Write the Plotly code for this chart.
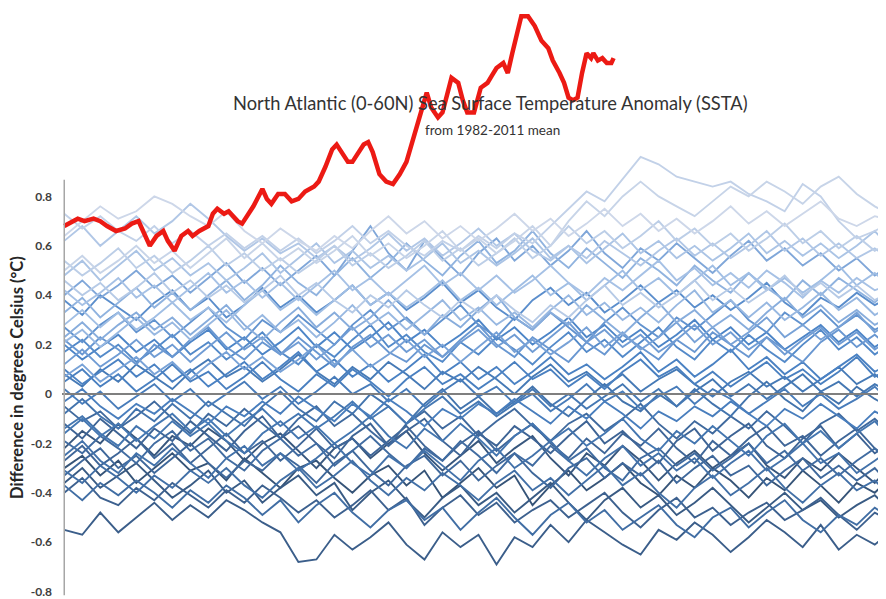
import plotly.graph_objects as go

# ---------------- data ----------------
days = list(range(0, 369, 8))  # sampling days for yearly series (47 points)

sst_1982 = [-0.30,-0.25,-0.33,-0.27,-0.36,-0.30,-0.24,-0.31,-0.28,-0.35,
            -0.26,-0.32,-0.38,-0.30,-0.27,-0.34,-0.40,-0.33,-0.29,-0.37,
            -0.31,-0.42,-0.36,-0.30,-0.38,-0.33,-0.45,-0.37,-0.31,-0.39,
            -0.34,-0.28,-0.36,-0.41,-0.33,-0.38,-0.30,-0.35,-0.42,-0.34,
            -0.39,-0.31,-0.37,-0.44,-0.36,-0.40,-0.33]
sst_1983 = [-0.22,-0.15,-0.20,-0.12,-0.18,-0.25,-0.17,-0.21,-0.14,-0.19,
            -0.27,-0.20,-0.16,-0.23,-0.30,-0.22,-0.18,-0.26,-0.20,-0.15,
            -0.24,-0.31,-0.25,-0.19,-0.28,-0.22,-0.17,-0.26,-0.33,-0.24,
            -0.29,-0.21,-0.27,-0.35,-0.28,-0.23,-0.30,-0.25,-0.20,-0.29,
            -0.34,-0.26,-0.31,-0.24,-0.30,-0.36,-0.28]
sst_1984 = [-0.36,-0.30,-0.38,-0.33,-0.28,-0.35,-0.42,-0.37,-0.31,-0.40,
            -0.35,-0.44,-0.38,-0.33,-0.41,-0.36,-0.47,-0.40,-0.35,-0.43,
            -0.50,-0.42,-0.37,-0.45,-0.40,-0.48,-0.42,-0.36,-0.44,-0.51,
            -0.43,-0.38,-0.46,-0.41,-0.49,-0.44,-0.38,-0.45,-0.52,-0.46,
            -0.40,-0.47,-0.43,-0.50,-0.45,-0.41,-0.48]
sst_1985 = [-0.55,-0.57,-0.48,-0.56,-0.50,-0.44,-0.51,-0.45,-0.50,-0.43,
            -0.47,-0.52,-0.56,-0.68,-0.67,-0.57,-0.63,-0.58,-0.52,-0.61,
            -0.67,-0.56,-0.62,-0.57,-0.69,-0.58,-0.62,-0.53,-0.60,-0.51,
            -0.56,-0.61,-0.65,-0.55,-0.59,-0.52,-0.57,-0.64,-0.58,-0.51,
            -0.56,-0.62,-0.53,-0.63,-0.57,-0.61,-0.55]
sst_1986 = [-0.40,-0.34,-0.42,-0.45,-0.38,-0.43,-0.36,-0.41,-0.46,-0.39,
            -0.44,-0.37,-0.42,-0.48,-0.43,-0.50,-0.45,-0.39,-0.47,-0.42,
            -0.53,-0.46,-0.41,-0.49,-0.44,-0.52,-0.47,-0.43,-0.50,-0.45,
            -0.40,-0.48,-0.54,-0.47,-0.42,-0.50,-0.46,-0.53,-0.48,-0.44,
            -0.51,-0.47,-0.42,-0.49,-0.55,-0.48,-0.52]
sst_1987 = [-0.12,-0.18,-0.10,-0.16,-0.22,-0.14,-0.19,-0.11,-0.17,-0.23,
            -0.15,-0.09,-0.18,-0.13,-0.20,-0.26,-0.17,-0.12,-0.21,-0.15,
            -0.10,-0.19,-0.25,-0.16,-0.21,-0.13,-0.18,-0.24,-0.17,-0.11,
            -0.20,-0.15,-0.22,-0.28,-0.19,-0.14,-0.23,-0.17,-0.12,-0.21,
            -0.26,-0.18,-0.13,-0.22,-0.16,-0.24,-0.19]
sst_1988 = [-0.27,-0.21,-0.29,-0.24,-0.18,-0.26,-0.20,-0.28,-0.22,-0.16,
            -0.24,-0.19,-0.27,-0.21,-0.14,-0.22,-0.18,-0.25,-0.19,-0.13,
            -0.21,-0.27,-0.20,-0.15,-0.23,-0.17,-0.12,-0.20,-0.26,-0.18,
            -0.24,-0.16,-0.21,-0.14,-0.22,-0.28,-0.19,-0.25,-0.18,-0.13,
            -0.21,-0.17,-0.25,-0.19,-0.14,-0.22,-0.27]
sst_1989 = [-0.33,-0.27,-0.22,-0.30,-0.25,-0.32,-0.26,-0.20,-0.28,-0.34,
            -0.27,-0.31,-0.24,-0.29,-0.36,-0.28,-0.23,-0.31,-0.37,-0.29,
            -0.25,-0.33,-0.27,-0.35,-0.29,-0.24,-0.32,-0.38,-0.30,-0.26,
            -0.34,-0.28,-0.33,-0.27,-0.36,-0.30,-0.25,-0.33,-0.29,-0.37,
            -0.31,-0.26,-0.34,-0.29,-0.35,-0.30,-0.38]
sst_1990 = [-0.05,-0.11,-0.07,-0.14,-0.09,-0.03,-0.10,-0.16,-0.08,-0.13,
            -0.06,-0.12,-0.18,-0.10,-0.05,-0.13,-0.08,-0.15,-0.21,-0.12,
            -0.07,-0.14,-0.09,-0.17,-0.11,-0.06,-0.13,-0.19,-0.12,-0.08,
            -0.15,-0.10,-0.04,-0.12,-0.18,-0.11,-0.16,-0.09,-0.14,-0.07,
            -0.13,-0.20,-0.12,-0.08,-0.15,-0.10,-0.17]
sst_1991 = [-0.19,-0.24,-0.17,-0.22,-0.28,-0.20,-0.15,-0.23,-0.18,-0.26,
            -0.31,-0.23,-0.18,-0.25,-0.20,-0.29,-0.23,-0.17,-0.24,-0.30,
            -0.22,-0.27,-0.19,-0.25,-0.32,-0.24,-0.29,-0.21,-0.27,-0.22,
            -0.30,-0.35,-0.26,-0.22,-0.29,-0.24,-0.31,-0.26,-0.20,-0.28,
            -0.23,-0.31,-0.26,-0.33,-0.27,-0.22,-0.29]
sst_1992 = [-0.37,-0.43,-0.36,-0.41,-0.35,-0.40,-0.46,-0.39,-0.44,-0.37,
            -0.42,-0.49,-0.43,-0.52,-0.45,-0.40,-0.48,-0.54,-0.47,-0.43,
            -0.51,-0.46,-0.55,-0.48,-0.42,-0.50,-0.57,-0.49,-0.44,-0.52,
            -0.47,-0.55,-0.50,-0.45,-0.53,-0.58,-0.50,-0.46,-0.54,-0.48,
            -0.43,-0.51,-0.56,-0.49,-0.53,-0.46,-0.51]
sst_1993 = [-0.31,-0.36,-0.29,-0.34,-0.40,-0.33,-0.38,-0.31,-0.36,-0.30,
            -0.37,-0.42,-0.35,-0.30,-0.38,-0.33,-0.27,-0.35,-0.41,-0.34,
            -0.39,-0.32,-0.37,-0.43,-0.36,-0.31,-0.39,-0.34,-0.41,-0.35,
            -0.29,-0.37,-0.32,-0.40,-0.46,-0.38,-0.33,-0.41,-0.36,-0.30,
            -0.38,-0.44,-0.37,-0.32,-0.39,-0.35,-0.42]
sst_1994 = [-0.25,-0.19,-0.27,-0.32,-0.24,-0.29,-0.22,-0.28,-0.34,-0.26,
            -0.21,-0.29,-0.24,-0.31,-0.26,-0.20,-0.28,-0.33,-0.25,-0.30,
            -0.23,-0.29,-0.35,-0.27,-0.22,-0.30,-0.25,-0.19,-0.27,-0.33,
            -0.26,-0.21,-0.29,-0.24,-0.31,-0.26,-0.34,-0.28,-0.23,-0.31,
            -0.26,-0.20,-0.28,-0.24,-0.32,-0.27,-0.22]
sst_1995 = [-0.08,-0.02,-0.09,-0.14,-0.06,-0.11,-0.04,-0.10,-0.03,-0.08,
            -0.13,-0.05,0.01,-0.06,-0.11,-0.03,-0.08,0.00,-0.05,-0.12,
            -0.04,0.02,-0.06,-0.01,-0.08,-0.03,0.03,-0.04,-0.09,-0.02,
            0.04,-0.03,-0.07,0.00,-0.05,0.02,-0.04,-0.09,-0.01,0.05,
            -0.02,-0.07,0.01,-0.04,0.03,-0.02,-0.06]
sst_1996 = [-0.14,-0.09,-0.16,-0.21,-0.13,-0.18,-0.11,-0.17,-0.12,-0.19,
            -0.24,-0.16,-0.11,-0.18,-0.13,-0.20,-0.15,-0.09,-0.17,-0.22,
            -0.14,-0.19,-0.12,-0.18,-0.25,-0.17,-0.12,-0.19,-0.14,-0.21,
            -0.16,-0.10,-0.18,-0.23,-0.15,-0.20,-0.13,-0.19,-0.25,-0.17,
            -0.12,-0.20,-0.15,-0.22,-0.16,-0.11,-0.19]
sst_1997 = [-0.16,-0.10,-0.17,-0.12,-0.19,-0.13,-0.08,-0.15,-0.10,-0.17,
            -0.11,-0.06,-0.13,-0.08,-0.14,-0.09,-0.03,-0.10,-0.05,-0.12,
            -0.06,-0.01,-0.08,-0.03,-0.09,-0.04,0.02,-0.05,0.00,-0.06,
            -0.01,0.04,-0.03,0.02,-0.05,0.01,0.06,-0.01,0.04,-0.02,
            0.03,0.08,0.01,0.05,-0.01,0.04,0.00]
sst_1998 = [0.08,0.03,0.10,0.05,0.12,0.07,0.02,0.09,0.14,0.07,
            0.11,0.05,0.10,0.16,0.09,0.04,0.11,0.06,0.13,0.08,
            0.02,0.09,0.05,0.11,0.06,0.00,0.07,0.12,0.05,0.09,
            0.03,0.08,0.01,0.06,0.10,0.04,-0.01,0.05,0.09,0.03,
            0.07,0.01,0.06,0.11,0.04,0.08,0.02]
sst_1999 = [0.02,-0.04,0.01,-0.06,-0.01,0.04,-0.03,0.02,-0.05,0.00,
            0.05,-0.02,0.03,-0.04,0.01,0.07,0.00,0.04,-0.03,0.02,
            -0.05,0.01,0.06,-0.01,0.03,-0.04,0.00,-0.07,-0.02,0.04,
            -0.03,0.01,-0.06,-0.01,0.03,-0.04,0.02,-0.02,-0.08,-0.03,
            0.02,-0.05,0.00,-0.06,-0.02,0.03,-0.04]
sst_2000 = [-0.03,0.02,-0.05,-0.10,-0.04,-0.08,-0.02,-0.07,-0.12,-0.05,
            -0.09,-0.03,-0.08,-0.01,-0.06,-0.11,-0.04,-0.09,-0.02,-0.07,
            -0.13,-0.06,-0.10,-0.04,-0.08,-0.02,-0.07,-0.12,-0.05,-0.10,
            -0.03,-0.08,-0.14,-0.07,-0.11,-0.05,-0.09,-0.03,-0.08,-0.13,
            -0.06,-0.10,-0.04,-0.09,-0.14,-0.07,-0.11]
sst_2001 = [0.05,0.10,0.03,0.08,0.01,0.06,0.12,0.05,0.09,0.02,
            0.07,0.13,0.06,0.01,0.08,0.03,0.10,0.05,-0.01,0.06,
            0.11,0.04,0.08,0.02,0.07,0.13,0.06,0.10,0.03,0.08,
            0.02,0.09,0.14,0.07,0.11,0.04,0.09,0.03,0.08,0.13,
            0.06,0.10,0.04,0.09,0.15,0.07,0.11]
sst_2002 = [0.10,0.04,0.09,0.14,0.07,0.12,0.05,0.10,0.03,0.08,
            0.13,0.06,0.11,0.17,0.09,0.14,0.07,0.12,0.05,0.10,
            0.16,0.08,0.13,0.06,0.11,0.04,0.09,0.15,0.08,0.12,
            0.06,0.11,0.17,0.09,0.14,0.07,0.12,0.18,0.10,0.15,
            0.08,0.13,0.06,0.11,0.16,0.09,0.13]
sst_2003 = [0.20,0.14,0.19,0.24,0.17,0.22,0.15,0.21,0.26,0.18,
            0.23,0.16,0.21,0.27,0.19,0.25,0.18,0.23,0.29,0.21,
            0.26,0.19,0.24,0.30,0.22,0.27,0.20,0.25,0.31,0.23,
            0.28,0.21,0.26,0.19,0.24,0.30,0.22,0.27,0.20,0.25,
            0.18,0.23,0.28,0.21,0.26,0.19,0.24]
sst_2004 = [0.17,0.22,0.15,0.20,0.13,0.18,0.24,0.16,0.21,0.14,
            0.19,0.25,0.17,0.12,0.20,0.15,0.22,0.28,0.19,0.24,
            0.17,0.13,0.21,0.16,0.23,0.18,0.12,0.19,0.25,0.17,
            0.22,0.15,0.21,0.27,0.19,0.14,0.22,0.17,0.24,0.18,
            0.13,0.20,0.26,0.18,0.23,0.16,0.21]
sst_2005 = [0.38,0.32,0.40,0.35,0.30,0.37,0.42,0.34,0.39,0.31,
            0.36,0.43,0.35,0.40,0.33,0.38,0.44,0.36,0.41,0.34,
            0.39,0.45,0.37,0.42,0.35,0.30,0.38,0.43,0.36,0.41,
            0.33,0.38,0.44,0.37,0.42,0.35,0.40,0.34,0.39,0.45,
            0.37,0.32,0.39,0.35,0.41,0.36,0.40]
sst_2006 = [0.27,0.21,0.28,0.33,0.25,0.30,0.23,0.29,0.35,0.27,
            0.22,0.30,0.25,0.32,0.26,0.20,0.28,0.34,0.26,0.31,
            0.24,0.30,0.36,0.28,0.23,0.31,0.26,0.33,0.27,0.21,
            0.29,0.35,0.28,0.23,0.31,0.26,0.32,0.38,0.30,0.25,
            0.33,0.28,0.34,0.27,0.32,0.26,0.30]
sst_2007 = [0.22,0.16,0.23,0.18,0.12,0.20,0.15,0.22,0.27,0.19,
            0.14,0.21,0.16,0.23,0.17,0.11,0.19,0.24,0.17,0.13,
            0.20,0.15,0.22,0.28,0.20,0.15,0.23,0.18,0.13,0.21,
            0.16,0.24,0.19,0.14,0.22,0.17,0.25,0.20,0.15,0.23,
            0.18,0.13,0.21,0.26,0.19,0.24,0.18]
sst_2008 = [0.12,0.18,0.11,0.16,0.22,0.15,0.20,0.13,0.19,0.25,
            0.18,0.23,0.16,0.21,0.14,0.20,0.27,0.19,0.24,0.17,
            0.22,0.15,0.21,0.26,0.19,0.24,0.17,0.23,0.29,0.21,
            0.26,0.19,0.24,0.17,0.22,0.28,0.20,0.25,0.18,0.23,
            0.16,0.22,0.27,0.20,0.25,0.18,0.23]
sst_2009 = [0.07,0.12,0.05,0.10,0.15,0.08,0.13,0.06,0.12,0.17,
            0.10,0.15,0.09,0.14,0.20,0.12,0.18,0.11,0.16,0.22,
            0.15,0.20,0.13,0.19,0.25,0.17,0.22,0.16,0.21,0.27,
            0.19,0.25,0.18,0.23,0.29,0.21,0.27,0.20,0.25,0.31,
            0.23,0.28,0.22,0.27,0.33,0.25,0.30]
sst_2010 = [0.40,0.46,0.39,0.44,0.50,0.43,0.48,0.41,0.47,0.53,
            0.45,0.51,0.44,0.50,0.56,0.48,0.58,0.68,0.57,0.50,
            0.62,0.55,0.48,0.57,0.63,0.54,0.60,0.52,0.58,0.66,
            0.57,0.51,0.59,0.54,0.61,0.55,0.49,0.56,0.62,0.54,
            0.59,0.52,0.57,0.50,0.55,0.48,0.53]
sst_2011 = [0.23,0.29,0.22,0.28,0.33,0.26,0.31,0.24,0.30,0.36,
            0.28,0.22,0.29,0.35,0.27,0.33,0.26,0.31,0.38,0.30,
            0.24,0.32,0.27,0.34,0.40,0.31,0.26,0.33,0.28,0.36,
            0.30,0.24,0.31,0.37,0.29,0.34,0.27,0.32,0.26,0.33,
            0.39,0.31,0.36,0.29,0.34,0.28,0.32]
sst_2012 = [0.33,0.39,0.31,0.37,0.43,0.35,0.41,0.34,0.40,0.46,
            0.38,0.44,0.52,0.45,0.40,0.48,0.55,0.47,0.53,0.61,
            0.54,0.48,0.56,0.62,0.53,0.58,0.66,0.57,0.51,0.59,
            0.53,0.47,0.55,0.50,0.44,0.52,0.46,0.41,0.49,0.43,
            0.38,0.46,0.40,0.47,0.42,0.37,0.44]
sst_2013 = [0.21,0.26,0.19,0.25,0.31,0.24,0.29,0.22,0.28,0.34,
            0.26,0.32,0.25,0.30,0.23,0.29,0.36,0.28,0.33,0.26,
            0.32,0.38,0.30,0.35,0.28,0.33,0.27,0.34,0.40,0.32,
            0.37,0.30,0.35,0.29,0.36,0.42,0.33,0.38,0.31,0.37,
            0.30,0.35,0.41,0.34,0.39,0.32,0.36]
sst_2014 = [0.28,0.34,0.27,0.33,0.26,0.31,0.37,0.30,0.35,0.29,
            0.36,0.42,0.34,0.39,0.32,0.38,0.44,0.36,0.41,0.35,
            0.40,0.46,0.38,0.43,0.36,0.42,0.48,0.40,0.45,0.38,
            0.44,0.50,0.42,0.47,0.40,0.46,0.52,0.44,0.49,0.42,
            0.47,0.41,0.46,0.52,0.44,0.49,0.43]
sst_2015 = [0.42,0.36,0.41,0.47,0.39,0.44,0.37,0.43,0.49,0.41,
            0.46,0.39,0.45,0.38,0.44,0.50,0.42,0.47,0.40,0.46,
            0.52,0.44,0.49,0.42,0.48,0.41,0.46,0.52,0.45,0.40,
            0.47,0.42,0.48,0.54,0.46,0.51,0.44,0.49,0.43,0.50,
            0.45,0.39,0.46,0.41,0.47,0.42,0.45]
sst_2016 = [0.48,0.54,0.46,0.52,0.58,0.50,0.55,0.48,0.53,0.46,
            0.51,0.57,0.49,0.55,0.61,0.53,0.58,0.51,0.56,0.50,
            0.55,0.61,0.53,0.58,0.52,0.57,0.63,0.55,0.60,0.53,
            0.59,0.65,0.57,0.62,0.55,0.60,0.54,0.59,0.65,0.57,
            0.62,0.56,0.61,0.55,0.60,0.66,0.58]
sst_2017 = [0.62,0.68,0.60,0.66,0.72,0.65,0.70,0.77,0.71,0.64,
            0.58,0.63,0.57,0.61,0.55,0.60,0.54,0.59,0.65,0.58,
            0.63,0.56,0.61,0.67,0.60,0.65,0.58,0.54,0.60,0.55,
            0.62,0.57,0.52,0.58,0.63,0.56,0.61,0.55,0.60,0.66,
            0.58,0.63,0.56,0.61,0.55,0.59,0.54]
sst_2018 = [0.46,0.40,0.45,0.38,0.43,0.49,0.41,0.46,0.39,0.44,
            0.37,0.42,0.48,0.40,0.45,0.38,0.33,0.40,0.35,0.42,
            0.36,0.31,0.38,0.33,0.40,0.34,0.29,0.36,0.31,0.38,
            0.44,0.36,0.41,0.35,0.40,0.46,0.38,0.43,0.37,0.42,
            0.48,0.40,0.45,0.39,0.44,0.38,0.42]
sst_2019 = [0.54,0.48,0.53,0.59,0.51,0.56,0.49,0.54,0.60,0.52,
            0.57,0.50,0.55,0.49,0.54,0.60,0.52,0.57,0.51,0.56,
            0.62,0.54,0.59,0.52,0.57,0.63,0.55,0.60,0.68,0.61,
            0.66,0.59,0.64,0.70,0.62,0.67,0.60,0.65,0.58,0.63,
            0.69,0.61,0.66,0.59,0.64,0.58,0.62]
sst_2020 = [0.73,0.67,0.72,0.66,0.62,0.68,0.61,0.66,0.60,0.65,
            0.59,0.64,0.58,0.63,0.57,0.62,0.68,0.61,0.66,0.60,
            0.56,0.62,0.58,0.64,0.59,0.65,0.61,0.68,0.75,0.82,
            0.78,0.87,0.96,0.93,0.88,0.86,0.84,0.86,0.81,0.78,
            0.74,0.85,0.80,0.70,0.63,0.66,0.70]
sst_2021 = [0.50,0.56,0.49,0.54,0.60,0.53,0.58,0.51,0.57,0.63,
            0.55,0.61,0.54,0.59,0.53,0.58,0.64,0.56,0.61,0.55,
            0.60,0.66,0.58,0.63,0.57,0.62,0.68,0.60,0.70,0.78,
            0.72,0.80,0.86,0.80,0.76,0.72,0.78,0.84,0.80,0.86,
            0.82,0.77,0.84,0.88,0.81,0.76,0.72]
sst_2022 = [0.64,0.70,0.76,0.71,0.74,0.80,0.77,0.72,0.68,0.74,
            0.66,0.61,0.67,0.62,0.58,0.64,0.59,0.66,0.72,0.65,
            0.70,0.63,0.68,0.62,0.67,0.73,0.66,0.71,0.64,0.69,
            0.75,0.68,0.73,0.66,0.71,0.65,0.70,0.76,0.69,0.74,
            0.68,0.73,0.78,0.71,0.68,0.72,0.70]

days_2023 = [0, 4, 6, 9, 13, 16, 19, 23, 27, 30, 33, 35, 38, 41, 44, 46, 49, 52, 55, 57,
             60, 64, 66, 68, 71, 73, 77, 79, 81, 84, 88, 90, 92, 95, 98, 101, 104, 107, 111, 113,
             116, 119, 121, 123, 126, 128, 131, 133, 135, 137, 140, 143, 146, 149, 152, 155, 159, 161, 163, 166,
             168, 171, 172, 175, 177, 179, 182, 185, 188, 190, 192, 195, 197, 199, 201, 203, 206, 209, 212, 215,
             217, 219, 220, 222, 224, 226, 228, 230, 232, 234, 235, 237, 239, 241, 243, 244]
sst_2023 = [0.68, 0.70, 0.71, 0.70, 0.71, 0.70, 0.68, 0.66, 0.67, 0.69, 0.70, 0.66, 0.60, 0.64, 0.66, 0.62, 0.58, 0.64, 0.66, 0.64,
            0.66, 0.68, 0.73, 0.75, 0.73, 0.74, 0.70, 0.69, 0.72, 0.76, 0.83, 0.79, 0.77, 0.81, 0.81, 0.78, 0.79, 0.82, 0.84, 0.86,
            0.92, 0.99, 1.01, 0.98, 0.94, 0.94, 0.98, 1.01, 1.02, 0.98, 0.89, 0.86, 0.85, 0.89, 0.94, 1.03, 1.15, 1.22, 1.16, 1.12,
            1.14, 1.25, 1.28, 1.26, 1.19, 1.14, 1.14, 1.24, 1.26, 1.29, 1.32, 1.34, 1.30, 1.38, 1.46, 1.53, 1.53, 1.49, 1.43, 1.40,
            1.35, 1.32, 1.30, 1.26, 1.20, 1.19, 1.20, 1.30, 1.38, 1.36, 1.38, 1.35, 1.36, 1.34, 1.34, 1.36]

tick_vals = [-0.8, -0.6, -0.4, -0.2, 0, 0.2, 0.4, 0.6, 0.8]
tick_text = ["-0.8", "-0.6", "-0.4", "-0.2", "0", "0.2", "0.4", "0.6", "0.8"]

title_text = "North Atlantic (0-60N) Sea Surface Temperature Anomaly (SSTA)"
subtitle_text = "from 1982-2011 mean"
ytitle_text = "Difference in degrees Celsius (°C)"

series = {
    1982: sst_1982, 1983: sst_1983, 1984: sst_1984, 1985: sst_1985, 1986: sst_1986,
    1987: sst_1987, 1988: sst_1988, 1989: sst_1989, 1990: sst_1990, 1991: sst_1991,
    1992: sst_1992, 1993: sst_1993, 1994: sst_1994, 1995: sst_1995, 1996: sst_1996,
    1997: sst_1997, 1998: sst_1998, 1999: sst_1999, 2000: sst_2000, 2001: sst_2001,
    2002: sst_2002, 2003: sst_2003, 2004: sst_2004, 2005: sst_2005, 2006: sst_2006,
    2007: sst_2007, 2008: sst_2008, 2009: sst_2009, 2010: sst_2010, 2011: sst_2011,
    2012: sst_2012, 2013: sst_2013, 2014: sst_2014, 2015: sst_2015, 2016: sst_2016,
    2017: sst_2017, 2018: sst_2018, 2019: sst_2019, 2020: sst_2020, 2021: sst_2021,
    2022: sst_2022,
}

bad = [y for y, v in series.items() if len(v) != len(days)]
if bad or len(days_2023) != len(sst_2023):
    raise SystemExit("length mismatch: %s %d %d" % (bad, len(days_2023), len(sst_2023)))

# ---------------- styling ----------------
stops = [(0.0, (54, 84, 120)), (0.12, (62, 100, 148)), (0.35, (68, 118, 176)),
         (0.52, (76, 132, 198)), (0.65, (112, 156, 212)), (0.8, (160, 190, 228)),
         (1.0, (205, 215, 233))]


def year_color(t):
    for (t0, c0), (t1, c1) in zip(stops[:-1], stops[1:]):
        if t <= t1:
            f = (t - t0) / (t1 - t0)
            c = [round(a + (b - a) * f) for a, b in zip(c0, c1)]
            return "rgb(%d,%d,%d)" % tuple(c)
    return "rgb(%d,%d,%d)" % stops[-1][1]


fig = go.Figure()
ys = sorted(series)
for y in ys:
    t = (y - ys[0]) / (ys[-1] - ys[0])
    fig.add_trace(go.Scatter(x=days, y=series[y], mode="lines", name=str(y),
                             line=dict(color=year_color(t), width=1.9),
                             hoverinfo="skip", showlegend=False))

fig.add_trace(go.Scatter(x=days_2023, y=sst_2023, mode="lines", name="2023",
                         line=dict(color="#ec1a14", width=4.5), showlegend=False))

font_main = "Lato, 'Open Sans', sans-serif"

# page has an 8px body margin: figure is 878x591 placed at (8, 8)
fig.update_layout(
    width=878, height=591,
    margin=dict(l=54, r=0, t=0, b=0),
    paper_bgcolor="white", plot_bgcolor="white",
    showlegend=False,
    xaxis=dict(range=[-1, 365], visible=False, showgrid=False, zeroline=False),
    yaxis=dict(range=[-0.830, 1.563], tickvals=tick_vals, ticktext=tick_text,
               showgrid=False, zeroline=False, showline=False, ticks="",
               ticklabelstandoff=9,
               tickfont=dict(family=font_main, size=12, color="#404040", weight="bold")),
    shapes=[
        dict(type="line", xref="x", yref="y", x0=-1, x1=365, y0=0, y1=0,
             line=dict(color="#7f7f7f", width=2.2), layer="above"),
        dict(type="line", xref="x", yref="y", x0=0, x1=0, y0=-0.815, y1=0.868,
             line=dict(color="#a6a6a6", width=1.5), layer="above"),
    ],
    annotations=[
        dict(text=title_text, xref="paper", yref="y", x=(490 - 62) / 824, y=(394 - 103) / 247,
             showarrow=False, xanchor="center", yanchor="middle",
             font=dict(family=font_main, size=18.3, color="#333333")),
        dict(text=subtitle_text, xref="paper", yref="y", x=(492 - 62) / 824, y=(394 - 130) / 247,
             showarrow=False, xanchor="center", yanchor="middle",
             font=dict(family=font_main, size=13.5, color="#333333")),
        dict(text=ytitle_text, xref="paper", yref="y", x=-(62 - 17) / 824, y=(394 - 378) / 247,
             showarrow=False, xanchor="center", yanchor="middle", textangle=-90,
             font=dict(family=font_main, size=16.5, color="#262626", weight="bold")),
    ],
)

fig.write_html("out.html")
